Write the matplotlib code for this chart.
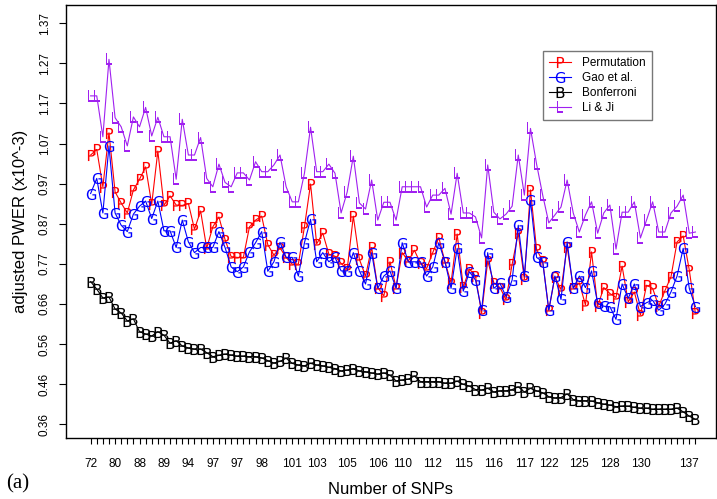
import numpy as np
import matplotlib
matplotlib.use("Agg")
import matplotlib.pyplot as plt

plt.rcParams['font.family'] = ['Liberation Sans', 'DejaVu Sans']

# adjusted PWER (x10^-3) for each data set, sorted by number of SNPs
perm = [1.038, 1.052, 0.958, 1.094, 0.945, 0.917, 0.892, 0.950, 0.977, 1.008,
        0.914, 1.048, 0.911, 0.935, 0.912, 0.911, 0.916, 0.851, 0.897, 0.803,
        0.857, 0.882, 0.825, 0.782, 0.780, 0.780, 0.857, 0.874, 0.884, 0.812,
        0.786, 0.804, 0.780, 0.763, 0.763, 0.857, 0.965, 0.814, 0.841, 0.788,
        0.783, 0.765, 0.750, 0.884, 0.775, 0.733, 0.805, 0.704, 0.683, 0.769,
        0.704, 0.792, 0.771, 0.798, 0.765, 0.752, 0.792, 0.830, 0.769, 0.716,
        0.839, 0.705, 0.751, 0.733, 0.639, 0.771, 0.716, 0.704, 0.674, 0.763,
        0.841, 0.725, 0.950, 0.800, 0.771, 0.647, 0.731, 0.699, 0.807, 0.704,
        0.716, 0.660, 0.794, 0.657, 0.704, 0.689, 0.679, 0.758, 0.668, 0.693,
        0.635, 0.710, 0.702, 0.657, 0.696, 0.731, 0.819, 0.834, 0.748, 0.639]

gao = [0.941, 0.979, 0.892, 1.061, 0.892, 0.861, 0.845, 0.889, 0.909, 0.922,
       0.878, 0.922, 0.847, 0.847, 0.805, 0.874, 0.819, 0.792, 0.805, 0.805,
       0.805, 0.845, 0.805, 0.756, 0.744, 0.756, 0.794, 0.817, 0.845, 0.745,
       0.769, 0.818, 0.780, 0.780, 0.733, 0.817, 0.876, 0.769, 0.792, 0.769,
       0.780, 0.746, 0.746, 0.792, 0.746, 0.713, 0.792, 0.702, 0.733, 0.746,
       0.702, 0.817, 0.769, 0.769, 0.769, 0.733, 0.756, 0.817, 0.769, 0.702,
       0.803, 0.695, 0.744, 0.723, 0.647, 0.792, 0.702, 0.715, 0.681, 0.723,
       0.861, 0.733, 0.924, 0.780, 0.769, 0.647, 0.733, 0.674, 0.819, 0.702,
       0.733, 0.704, 0.746, 0.664, 0.657, 0.656, 0.624, 0.713, 0.677, 0.713,
       0.656, 0.666, 0.672, 0.647, 0.662, 0.693, 0.733, 0.803, 0.702, 0.656]

bonf = [0.719, 0.700, 0.678, 0.680, 0.650, 0.640, 0.620, 0.625, 0.593, 0.587,
        0.582, 0.593, 0.584, 0.564, 0.570, 0.557, 0.552, 0.549, 0.549, 0.540,
        0.530, 0.533, 0.536, 0.534, 0.531, 0.531, 0.530, 0.530, 0.527, 0.520,
        0.514, 0.518, 0.526, 0.513, 0.509, 0.507, 0.513, 0.509, 0.507, 0.503,
        0.500, 0.494, 0.496, 0.500, 0.494, 0.492, 0.489, 0.486, 0.489, 0.483,
        0.469, 0.471, 0.473, 0.481, 0.467, 0.467, 0.467, 0.467, 0.463, 0.463,
        0.468, 0.460, 0.456, 0.447, 0.446, 0.450, 0.441, 0.444, 0.444, 0.447,
        0.454, 0.441, 0.450, 0.444, 0.439, 0.429, 0.426, 0.427, 0.436, 0.422,
        0.419, 0.419, 0.418, 0.414, 0.410, 0.408, 0.404, 0.405, 0.405, 0.402,
        0.400, 0.400, 0.397, 0.397, 0.397, 0.397, 0.400, 0.391, 0.380, 0.372]

liji = [1.187, 1.187, 1.084, 1.279, 1.132, 1.109, 1.061, 1.134, 1.109, 1.158,
        1.086, 1.133, 1.084, 1.084, 0.977, 1.128, 1.038, 1.038, 1.082, 0.979,
        0.958, 1.015, 0.969, 0.958, 0.993, 0.993, 0.975, 1.021, 0.996, 0.996,
        1.013, 1.038, 0.958, 0.920, 0.920, 0.992, 1.108, 0.996, 0.996, 1.015,
        0.992, 0.892, 0.945, 1.035, 0.917, 0.902, 0.975, 0.874, 0.919, 0.919,
        0.874, 0.958, 0.958, 0.958, 0.958, 0.907, 0.937, 0.937, 0.954, 0.889,
        0.992, 0.892, 0.892, 0.882, 0.829, 1.013, 0.894, 0.877, 0.889, 0.909,
        1.038, 0.937, 1.105, 1.015, 0.937, 0.867, 0.887, 0.907, 0.975, 0.892,
        0.844, 0.887, 0.920, 0.841, 0.892, 0.912, 0.801, 0.894, 0.894, 0.920,
        0.829, 0.874, 0.920, 0.844, 0.844, 0.892, 0.909, 0.937, 0.841, 0.844]

# SNP counts shown under the axis and the data set they sit under
snp_labels = ["72", "80", "88", "89", "94", "97", "97", "98", "101", "103", "105",
              "106", "110", "112", "115", "116", "117", "122", "125", "128", "130", "137"]
snp_label_pos = [0, 4, 8, 12, 16, 20, 24, 28, 33, 37, 42,
                 47, 51, 56, 61, 66, 71, 75, 80, 85, 90, 98]

ytick_labels = ["0.36", "0.46", "0.56", "0.66", "0.77", "0.87",
                "0.97", "1.07", "1.17", "1.27", "1.37"]

x = np.arange(len(perm))

fig = plt.figure(figsize=(7.17, 4.99), dpi=100)
ax = fig.add_axes([0.092, 0.122, 0.906, 0.868])

series = [(perm, "P", "#ff0000", "Permutation"),
          (gao, "G", "#0000ff", "Gao et al."),
          (bonf, "B", "black", "Bonferroni"),
          (liji, "L", "#a020f0", "Li & Ji")]
for vals, letter, col, name in series:
    ax.plot(x, vals, color=col, lw=0.8, marker=r"$\mathsf{%s}$" % letter,
            markersize=8, markeredgewidth=0, label=name)

ax.set_xlim(-4.04, 102.3)
ax.set_ylim(0.3247, 1.416)

ax.set_xticks(x, minor=True)
ax.set_xticks(snp_label_pos)
ax.set_xticklabels(snp_labels, fontsize=8.5)
ax.tick_params(axis="x", which="both", direction="out", length=4, width=0.8)
ax.tick_params(axis="x", which="major", pad=10)

yt = [0.36 + 0.101 * k for k in range(len(ytick_labels))]
ax.set_yticks(yt)
ax.set_yticklabels(ytick_labels, fontsize=8.5, rotation=90, va="center")
ax.tick_params(axis="y", direction="out", length=5, width=0.8, pad=6)

for sp in ax.spines.values():
    sp.set_linewidth(1.0)

ax.set_xlabel("Number of SNPs", fontsize=12, labelpad=9)
ax.set_ylabel("adjusted PWER (x10^-3)", fontsize=12, labelpad=8)

fig.text(0.008, 0.022, "(a)", family="Liberation Serif", fontsize=15)

leg = ax.legend(loc="upper left", bbox_to_anchor=(0.726, 0.907), fontsize=8.5,
                frameon=True, fancybox=False, handlelength=1.8, borderpad=0.5,
                labelspacing=0.25, handletextpad=1.0)
leg.get_frame().set_edgecolor("#555555")
leg.get_frame().set_linewidth(1.0)

fig.savefig("out.png", dpi=100)
